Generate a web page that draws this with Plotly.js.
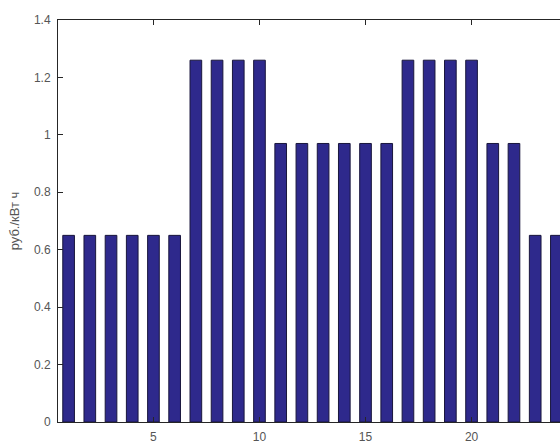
<!DOCTYPE html>
<html>
<head>
<meta charset="utf-8">
<script src="https://cdn.plot.ly/plotly-3.0.1.min.js"></script>
<style>
html, body { margin: 0; padding: 0; overflow: hidden; background: #fff; }
#chart { width: 575px; height: 443px; }
</style>
</head>
<body>
<div id="chart"></div>
<script>
var hours = [1,2,3,4,5,6,7,8,9,10,11,12,13,14,15,16,17,18,19,20,21,22,23,24];
var tariff = [0.65,0.65,0.65,0.65,0.65,0.65,1.26,1.26,1.26,1.26,0.97,0.97,0.97,0.97,0.97,0.97,1.26,1.26,1.26,1.26,0.97,0.97,0.65,0.65];
var xTicks = [5,10,15,20];
var yTicks = [0,0.2,0.4,0.6,0.8,1,1.2,1.4];
var yTickText = ['0','0.2','0.4','0.6','0.8','1','1.2','1.4'];

var trace = {
  type: 'bar',
  x: hours,
  y: tariff,
  width: 0.55,
  marker: { color: 'rgb(46,41,140)', line: { color: 'rgb(25,22,60)', width: 1 } },
  hoverinfo: 'x+y'
};

var layout = {
  width: 575,
  height: 443,
  margin: { l: 58, r: 8, t: 20, b: 21 },
  paper_bgcolor: '#ffffff',
  plot_bgcolor: '#ffffff',
  showlegend: false,
  font: { family: 'Liberation Sans, Arial, sans-serif', size: 12, color: '#555555' },
  xaxis: {
    range: [0.5, 24.5],
    tickvals: xTicks,
    ticktext: xTicks.map(String),
    ticks: 'inside',
    ticklen: 5,
    tickcolor: '#262626',
    showline: true,
    linecolor: '#262626',
    linewidth: 1,
    mirror: 'ticks',
    showgrid: false,
    zeroline: false,
    ticklabelstandoff: 4,
    tickfont: { size: 12, color: '#555555' }
  },
  yaxis: {
    range: [0, 1.4],
    tickvals: yTicks,
    ticktext: yTickText,
    ticks: 'inside',
    ticklen: 5,
    tickcolor: '#262626',
    showline: true,
    linecolor: '#262626',
    linewidth: 1,
    mirror: 'ticks',
    showgrid: false,
    zeroline: false,
    ticklabelstandoff: 4,
    tickfont: { size: 12, color: '#555555' },
    title: { text: 'руб./кВт ч', font: { size: 13, color: '#555555' }, standoff: 11 }
  }
};

Plotly.newPlot('chart', [trace], layout, { displayModeBar: false, staticPlot: true });
</script>
</body>
</html>
